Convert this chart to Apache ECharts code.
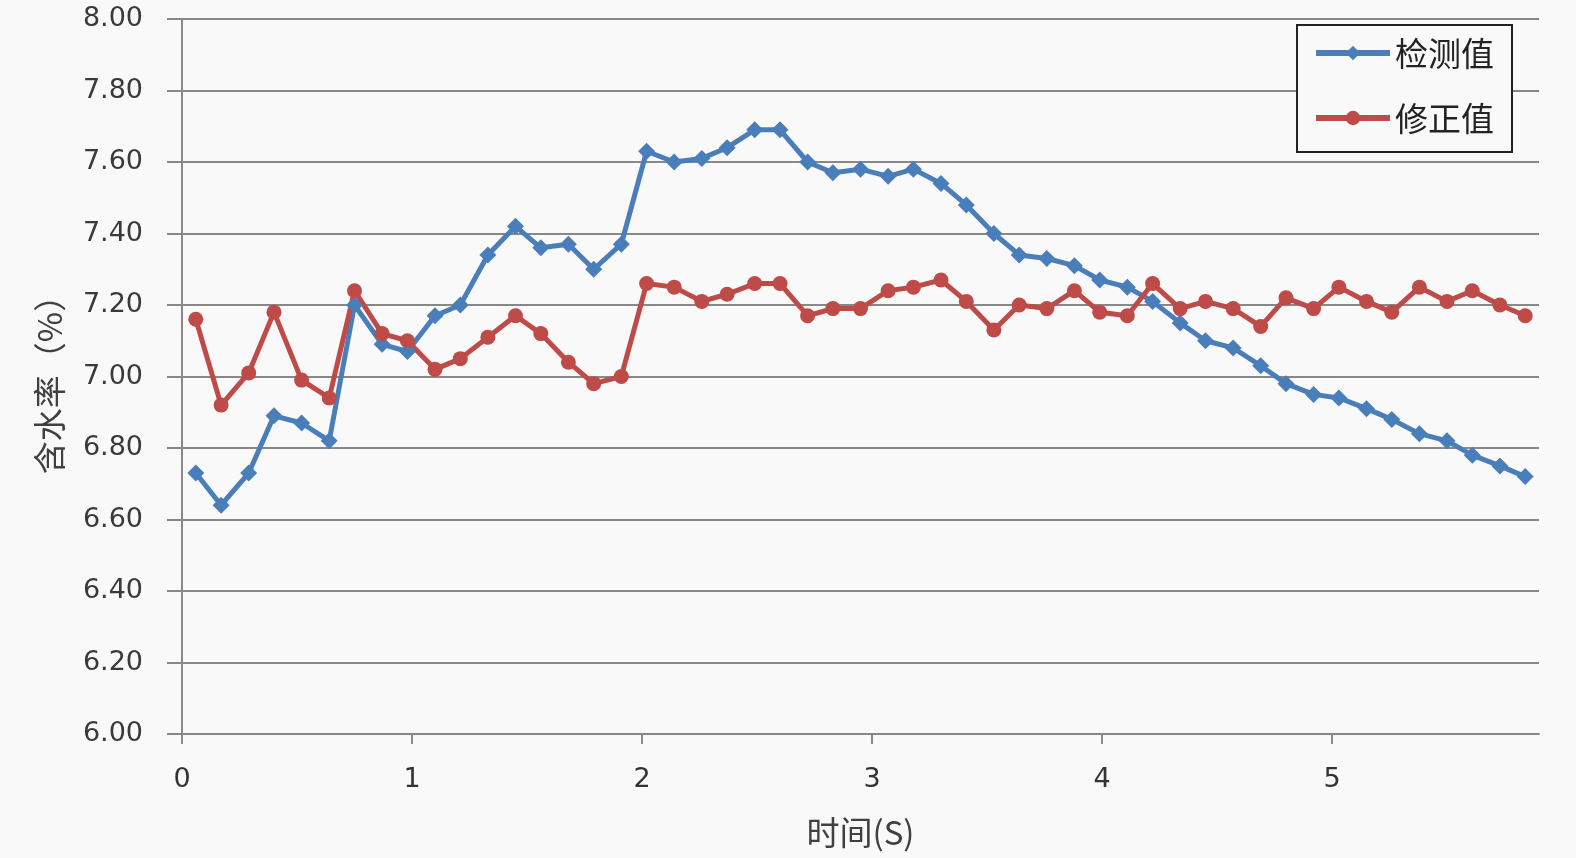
<!DOCTYPE html>
<html>
<head>
<meta charset="utf-8">
<script src="https://cdn.jsdelivr.net/npm/echarts@6/dist/echarts.min.js"></script>
<style>
html,body{margin:0;padding:0;background:#f9f9f9;}
#chart{width:1576px;height:858px;}
</style>
</head>
<body>
<div id="chart"></div>
<script>
// time (s) of each sample
var times = [0.06,0.17,0.29,0.40,0.52,0.64,0.75,0.87,0.98,1.10,
             1.21,1.33,1.45,1.56,1.68,1.79,1.91,2.02,2.14,2.26,
             2.37,2.49,2.60,2.72,2.83,2.95,3.07,3.18,3.30,3.41,
             3.53,3.64,3.76,3.88,3.99,4.11,4.22,4.34,4.45,4.57,
             4.69,4.80,4.92,5.03,5.15,5.26,5.38,5.50,5.61,5.73,5.84];
// 检测值 (measured)
var measured = [6.73,6.64,6.73,6.89,6.87,6.82,7.20,7.09,7.07,7.17,
                7.20,7.34,7.42,7.36,7.37,7.30,7.37,7.63,7.60,7.61,
                7.64,7.69,7.69,7.60,7.57,7.58,7.56,7.58,7.54,7.48,
                7.40,7.34,7.33,7.31,7.27,7.25,7.21,7.15,7.10,7.08,
                7.03,6.98,6.95,6.94,6.91,6.88,6.84,6.82,6.78,6.75,6.72];
// 修正值 (corrected)
var corrected = [7.16,6.92,7.01,7.18,6.99,6.94,7.24,7.12,7.10,7.02,
                 7.05,7.11,7.17,7.12,7.04,6.98,7.00,7.26,7.25,7.21,
                 7.23,7.26,7.26,7.17,7.19,7.19,7.24,7.25,7.27,7.21,
                 7.13,7.20,7.19,7.24,7.18,7.17,7.26,7.19,7.21,7.19,
                 7.14,7.22,7.19,7.25,7.21,7.18,7.25,7.21,7.24,7.20,7.17];
var seriesNames = ['检测值','修正值'];
var xTicks = [0,1,2,3,4,5];
var yRange = [6.0, 8.0];

function pairs(xs, ys){ return xs.map(function(x,i){ return [x, ys[i]]; }); }

var font = 'DejaVu Sans, "Noto Sans CJK SC", sans-serif';
var cjk = '"Noto Sans CJK SC", "DejaVu Sans", sans-serif';
var gridColor = '#888888';
var chart = echarts.init(document.getElementById('chart'), null, {renderer:'canvas'});
chart.setOption({
  backgroundColor: '#f9f9f9',
  animation: false,
  grid: {left: 182, right: 37, top: 19, bottom: 124, containLabel: false},
  legend: {
    orient: 'vertical',
    left: 1297, top: 25,
    padding: [11, 18, 17, 16],
    borderColor: '#222',
    borderWidth: 2,
    backgroundColor: '#f9f9f9',
    itemWidth: 74, itemHeight: 18,
    itemGap: 31,
    lineStyle: {width: 6},
    textStyle: {fontFamily: cjk, fontSize: 33, color: '#222', lineHeight: 34},
    data: seriesNames
  },
  xAxis: {
    type: 'value', min: 0, max: 5.9, interval: 1,
    name: '时间(S)', nameLocation: 'middle', nameGap: 82,
    nameTextStyle: {fontFamily: cjk, fontSize: 33, color: '#404040'},
    axisLine: {lineStyle: {color: gridColor, width: 2}},
    axisTick: {show: true, length: 10, lineStyle: {color: gridColor, width: 2}, customValues: xTicks},
    axisLabel: {fontFamily: font, fontSize: 27, color: '#333', margin: 32, customValues: xTicks},
    splitLine: {show: false}
  },
  yAxis: {
    type: 'value', min: yRange[0], max: yRange[1], interval: 0.2,
    name: '含水率（%）', nameLocation: 'middle', nameGap: 116,
    nameTextStyle: {fontFamily: cjk, fontSize: 33, color: '#404040'},
    axisLine: {show: true, lineStyle: {color: gridColor, width: 2}},
    axisTick: {show: true, length: 15, lineStyle: {color: gridColor, width: 2}},
    axisLabel: {fontFamily: font, fontSize: 27, color: '#3a3a3a', margin: 39,
      formatter: function(v){ return v.toFixed(2); }},
    splitLine: {show: true, lineStyle: {color: gridColor, width: 2}}
  },
  series: [
    {
      name: seriesNames[0], type: 'line', data: pairs(times, measured),
      symbol: 'diamond', symbolSize: 17,
      lineStyle: {color: '#4A7EBB', width: 5},
      itemStyle: {color: '#4A7EBB'}
    },
    {
      name: seriesNames[1], type: 'line', data: pairs(times, corrected),
      symbol: 'circle', symbolSize: 15,
      lineStyle: {color: '#BE4B48', width: 5},
      itemStyle: {color: '#BE4B48'}
    }
  ]
});
</script>
</body>
</html>
